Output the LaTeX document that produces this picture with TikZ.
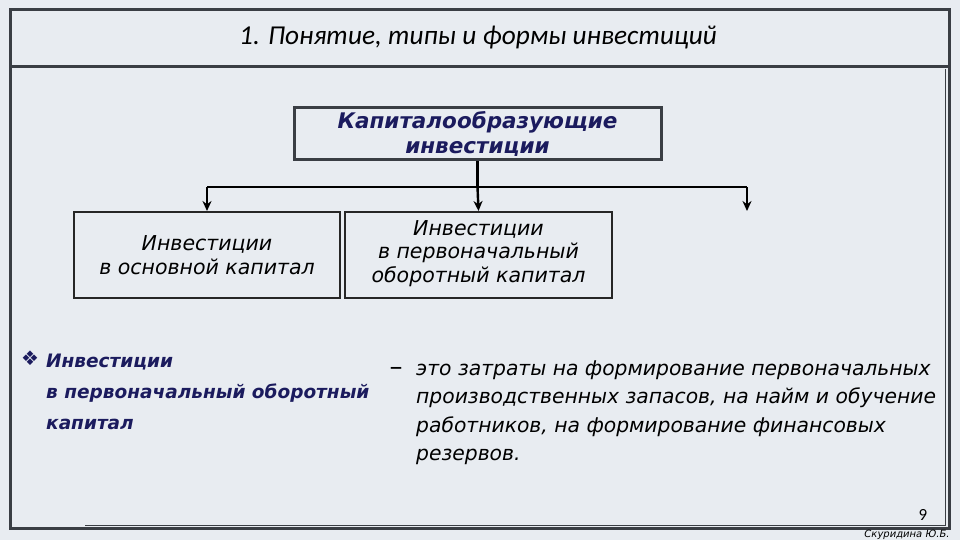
\documentclass[tikz,border=0pt]{standalone}
\usepackage{fontspec}
\setmainfont{DejaVu Sans}
\newfontfamily\titlefont{Carlito}
\usetikzlibrary{arrows.meta,positioning}
\definecolor{slidebg}{RGB}{232,236,241}
\definecolor{framegray}{RGB}{58,62,68}
\definecolor{termnavy}{RGB}{27,27,94}
\tikzset{
  frame/.style={draw=framegray,line width=3pt},
  typebox/.style={rectangle,draw=black!85,line width=2pt,fill=slidebg,align=center,
                  inner sep=0pt,minimum height=86pt,font=\fontsize{20.5}{23.5}\selectfont\itshape},
  topbox/.style={rectangle,draw=framegray,line width=3pt,fill=slidebg,align=center,inner sep=0pt,
                 minimum width=367pt,minimum height=52pt,text=termnavy,
                 font=\fontsize{21.5}{25}\selectfont\bfseries\itshape},
  lnk/.style={draw=black,line width=2.4pt},
  arr/.style={lnk,-{Stealth[length=10pt,width=9pt]}},
}

\begin{document}
\begin{tikzpicture}[x=1pt,y=-1pt]
  \fill[slidebg] (0,0) rectangle (960,540);
  \useasboundingbox (0,0) rectangle (960,540);
  % slide frame
  \draw[frame] (10,10) rectangle (949,528.5);
  \draw[frame] (10,67) -- (949,67);
  \draw[framegray,line width=1pt] (85,525) -- (946,525);
  \draw[framegray,line width=1pt] (945.5,69) -- (945.5,525);
  \node (title) at (478,38) {\titlefont\fontsize{27.3}{30}\selectfont\itshape 1. Понятие, типы и формы инвестиций};
  % structure
  \node[topbox] (kapit) at (477.5,134) {Капиталообразующие\\инвестиции};
  \node[typebox,minimum width=266pt] (osnov) at (207,255) {Инвестиции\\в основной капитал};
  \node[typebox,minimum width=267pt] (oborot) at (478.5,255) {Инвестиции\\в первоначальный\\оборотный капитал\strut};
  \coordinate (busL) at (207,187);
  \coordinate (busR) at (747,187);
  \coordinate (third) at (747,211);
  \draw[lnk] (kapit.south) -- (kapit.south |- busL);
  \draw[lnk] (busL) -- (busR);
  \draw[arr] (busL) -- (osnov.north);
  \draw[arr] (kapit.south |- busL) -- (oborot.north);
  \draw[arr] (busR) -- (third);
  % definition
  \node[text=termnavy,font=\fontsize{20}{22}\selectfont] (mark) at (30,358) {❖};
  \node[anchor=north west,inner sep=0pt,align=left,text=termnavy,
        font=\fontsize{18.5}{31}\selectfont\bfseries\itshape] (term) at (46,354)
        {Инвестиции\\в первоначальный оборотный\\капитал};
  \node[font=\fontsize{26}{28}\selectfont] (dash) at (396,371) {–};
  \node[anchor=north west,inner sep=0pt,align=left,
        font=\fontsize{20.3}{28.5}\selectfont\itshape] (defin) at (416,360)
        {это затраты на формирование первоначальных\\производственных запасов, на найм и обучение\\работников, на формирование финансовых\\резервов.};
  \node (pnum) at (923,515) {\titlefont\fontsize{17}{18}\selectfont 9};
  \node[font=\fontsize{10}{11}\selectfont\itshape] (sign) at (907,534.5) {Скуридина Ю.Б.};
\end{tikzpicture}
\end{document}
